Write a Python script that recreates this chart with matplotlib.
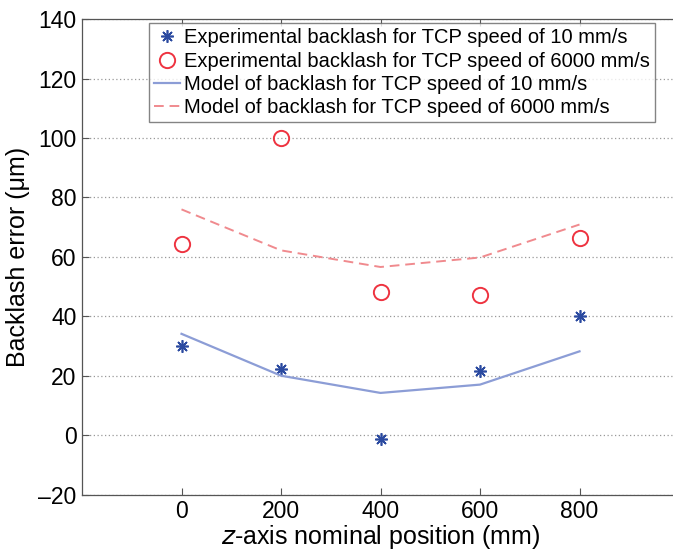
import matplotlib
matplotlib.use("Agg")
import matplotlib.pyplot as plt

plt.rcParams['font.family'] = ['Liberation Sans', 'DejaVu Sans']

positions = [0, 200, 400, 600, 800]
exp_10 = [30.1, 22.3, -1.2, 21.6, 40.2]
exp_6000 = [64.5, 100.0, 48.2, 47.3, 66.2]
model_10 = [34.1, 20.0, 14.2, 17.0, 28.2]
model_6000 = [76.0, 62.2, 56.6, 59.8, 70.9]

xticks = [0, 200, 400, 600, 800]
yticks = [-20, 0, 20, 40, 60, 80, 100, 120, 140]

fig = plt.figure(figsize=(6.73, 5.5), dpi=100)
ax = fig.add_axes([82/673, (550-494.5)/550, 597/673, (494.5-19.3)/550])

ax.plot(positions, exp_10, linestyle='none', marker=(8, 2, 0), markersize=9,
        markeredgewidth=1.2, color='#2b4aa0',
        label='Experimental backlash for TCP speed of 10 mm/s')
ax.plot(positions, exp_6000, linestyle='none', marker='o', markersize=11,
        markerfacecolor='none', markeredgewidth=1.4, markeredgecolor='#ee3340',
        label='Experimental backlash for TCP speed of 6000 mm/s')
ax.plot(positions, model_10, '-', color='#8c9dd6', linewidth=1.6,
        label='Model of backlash for TCP speed of 10 mm/s')
ax.plot(positions, model_6000, '--', color='#f08a8e', linewidth=1.4, dashes=(5, 3),
        label='Model of backlash for TCP speed of 6000 mm/s')

ax.set_xlim(-200, 1000)
ax.set_ylim(-20, 140)
ax.set_xticks(xticks)
ax.set_yticks(yticks)
ax.set_xticklabels([str(v) for v in xticks])
ax.set_yticklabels(['\u201320' if v < 0 else str(v) for v in yticks])
ax.tick_params(direction='in', length=5, width=0.8, color='#555555',
               labelsize=16.5, top=True, right=False, pad=4)
ax.yaxis.grid(True, linestyle=(0, (1, 2)), color='#999999', linewidth=0.9)
for s in ax.spines.values():
    s.set_color('#555555')
    s.set_linewidth(0.9)
ax.spines['right'].set_visible(False)

ax.set_xlabel('$\\it{z}$-axis nominal position (mm)', fontsize=18, labelpad=0)
ax.set_ylabel('Backlash error (\u03bcm)', fontsize=18, labelpad=6)

leg = ax.legend(loc='upper right', bbox_to_anchor=(0.96, 0.992), fontsize=14.5,
                frameon=True, fancybox=False, handlelength=1.3, handletextpad=0.2,
                borderpad=0.25, labelspacing=0.22, borderaxespad=0.0)
leg.get_frame().set_edgecolor('#666666')
leg.get_frame().set_linewidth(1.0)

fig.savefig('out.png', dpi=100)
